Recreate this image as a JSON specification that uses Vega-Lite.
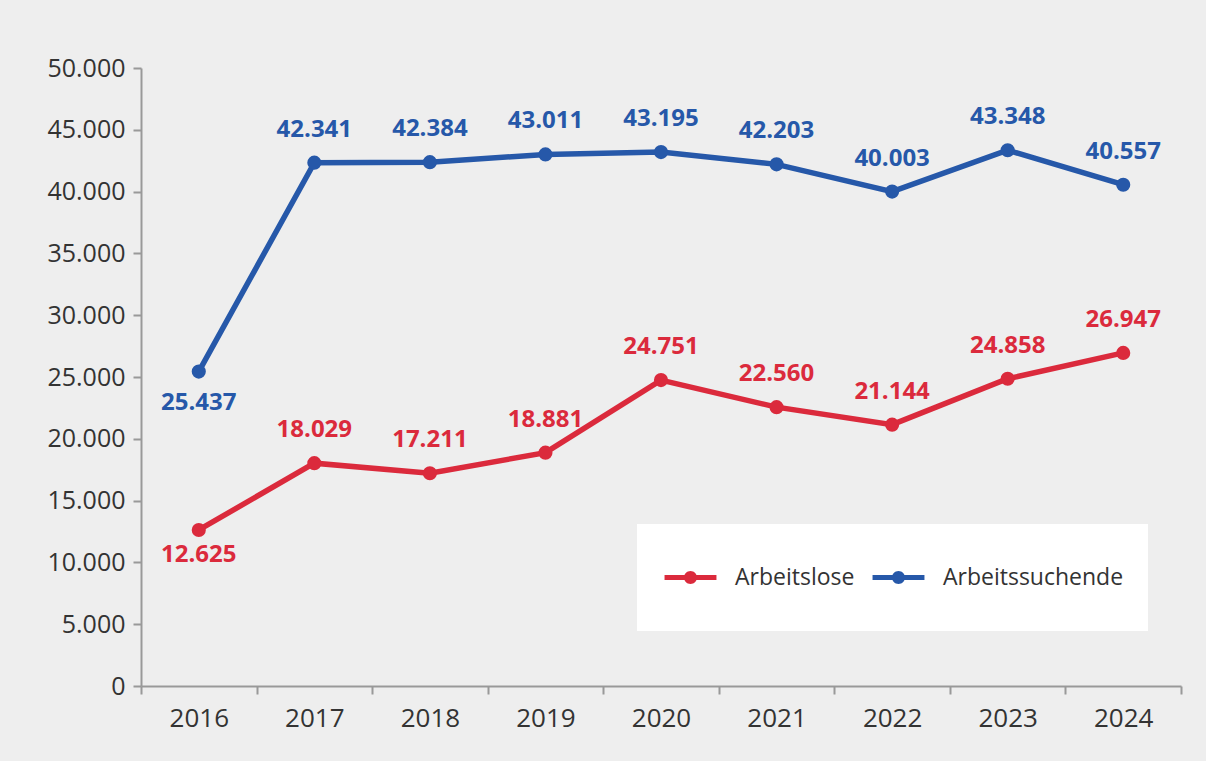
{
  "$schema": "https://vega.github.io/schema/vega-lite/v6.json",
  "width": 1040,
  "height": 618,
  "autosize": {"type": "none"},
  "padding": {"left": 141, "top": 68, "right": 25, "bottom": 75},
  "background": "#eeeeee",
  "config": {
    "locale": {"number": {"decimal": ",", "thousands": ".", "grouping": [3], "currency": ["", " €"]}},
    "view": {"stroke": null},
    "font": "Open Sans",
    "axis": {
      "grid": false,
      "title": null,
      "domainColor": "#999999",
      "domainWidth": 2,
      "tickColor": "#999999",
      "tickWidth": 2,
      "tickSize": 8,
      "labelColor": "#333333",
      "labelFont": "Open Sans"
    }
  },
  "data": {
    "values": [
      {"year": 2016, "series": "Arbeitslose", "value": 12625},
      {"year": 2017, "series": "Arbeitslose", "value": 18029},
      {"year": 2018, "series": "Arbeitslose", "value": 17211},
      {"year": 2019, "series": "Arbeitslose", "value": 18881},
      {"year": 2020, "series": "Arbeitslose", "value": 24751},
      {"year": 2021, "series": "Arbeitslose", "value": 22560},
      {"year": 2022, "series": "Arbeitslose", "value": 21144},
      {"year": 2023, "series": "Arbeitslose", "value": 24858},
      {"year": 2024, "series": "Arbeitslose", "value": 26947},
      {"year": 2016, "series": "Arbeitssuchende", "value": 25437},
      {"year": 2017, "series": "Arbeitssuchende", "value": 42341},
      {"year": 2018, "series": "Arbeitssuchende", "value": 42384},
      {"year": 2019, "series": "Arbeitssuchende", "value": 43011},
      {"year": 2020, "series": "Arbeitssuchende", "value": 43195},
      {"year": 2021, "series": "Arbeitssuchende", "value": 42203},
      {"year": 2022, "series": "Arbeitssuchende", "value": 40003},
      {"year": 2023, "series": "Arbeitssuchende", "value": 43348},
      {"year": 2024, "series": "Arbeitssuchende", "value": 40557}
    ]
  },
  "encoding": {
    "x": {
      "field": "year",
      "type": "ordinal",
      "bandPosition": 0.5,
      "scale": {"type": "band", "paddingInner": 0, "paddingOuter": 0},
      "axis": {"labelAngle": 0, "tickBand": "extent", "labelPadding": 11, "labelFontSize": 26}
    },
    "y": {
      "field": "value",
      "type": "quantitative",
      "scale": {"domain": [0, 50000]},
      "axis": {
        "values": [0, 5000, 10000, 15000, 20000, 25000, 30000, 35000, 40000, 45000, 50000],
        "format": ",d",
        "labelPadding": 8,
        "labelFontSize": 25
      }
    },
    "color": {
      "field": "series",
      "type": "nominal",
      "scale": {"domain": ["Arbeitslose", "Arbeitssuchende"], "range": ["#db2a3c", "#2658a9"]},
      "legend": {
        "orient": "none",
        "legendX": 496,
        "legendY": 456,
        "direction": "horizontal",
        "title": null,
        "fillColor": "white",
        "padding": 24,
        "symbolType": "M0,-1L0,1 M-0.88,-0.085H0.88V0.085H-0.88Z M0.22,0A0.22,0.22 0 1 1 -0.22,0A0.22,0.22 0 1 1 0.22,0Z",
        "symbolSize": 3481,
        "symbolStrokeWidth": 0,
        "labelFontSize": 23,
        "labelFont": "Open Sans",
        "labelColor": "#333333",
        "labelLimit": 0,
        "labelOffset": 15,
        "columnPadding": 14,
        "encode": {
          "symbols": {
            "update": {
              "fill": {"scale": "color", "field": "value"},
              "opacity": {"value": 1}
            }
          }
        }
      }
    }
  },
  "layer": [
    {"mark": {"type": "line", "strokeWidth": 5.5}},
    {"mark": {"type": "point", "filled": true, "size": 200, "opacity": 1}},
    {
      "transform": [{"filter": "datum.year != 2016"}],
      "mark": {"type": "text", "dy": -33, "fontWeight": "bold", "fontSize": 24, "baseline": "middle"},
      "encoding": {"text": {"field": "value", "type": "quantitative", "format": ",d"}}
    },
    {
      "transform": [{"filter": "datum.year == 2016 && datum.series == 'Arbeitssuchende'"}],
      "mark": {"type": "text", "dy": 31, "fontWeight": "bold", "fontSize": 24, "baseline": "middle"},
      "encoding": {"text": {"field": "value", "type": "quantitative", "format": ",d"}}
    },
    {
      "transform": [{"filter": "datum.year == 2016 && datum.series == 'Arbeitslose'"}],
      "mark": {"type": "text", "dy": 25, "fontWeight": "bold", "fontSize": 24, "baseline": "middle"},
      "encoding": {"text": {"field": "value", "type": "quantitative", "format": ",d"}}
    }
  ]
}
